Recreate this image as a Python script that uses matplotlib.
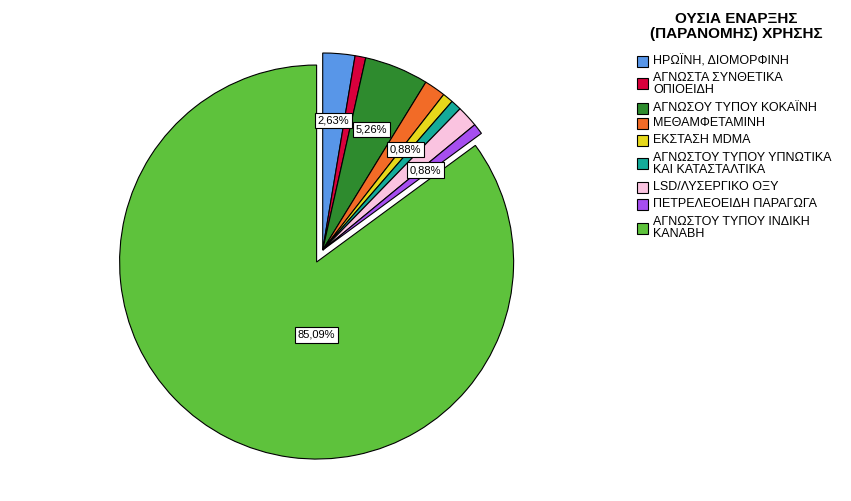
import matplotlib
matplotlib.use("Agg")
import matplotlib.pyplot as plt
import numpy as np
from matplotlib.patches import Rectangle

plt.rcParams['font.family'] = ['Liberation Sans', 'DejaVu Sans']

categories = [
    "ΗΡΩΪΝΗ, ΔΙΟΜΟΡΦΙΝΗ",
    "ΑΓΝΩΣΤΑ ΣΥΝΘΕΤΙΚΑ\nΟΠΙΟΕΙΔΗ",
    "ΑΓΝΩΣΟΥ ΤΥΠΟΥ ΚΟΚΑΪΝΗ",
    "ΜΕΘΑΜΦΕΤΑΜΙΝΗ",
    "ΕΚΣΤΑΣΗ MDMA",
    "ΑΓΝΩΣΤΟΥ ΤΥΠΟΥ ΥΠΝΩΤΙΚΑ\nΚΑΙ ΚΑΤΑΣΤΑΛΤΙΚΑ",
    "LSD/ΛΥΣΕΡΓΙΚΟ ΟΞΥ",
    "ΠΕΤΡΕΛΕΟΕΙΔΗ ΠΑΡΑΓΩΓΑ",
    "ΑΓΝΩΣΤΟΥ ΤΥΠΟΥ ΙΝΔΙΚΗ\nΚΑΝΑΒΗ",
]
counts = [3, 1, 6, 2, 1, 1, 2, 1, 97]
colors = ["#5896e8", "#d8003c", "#2e8b2e", "#f26b27", "#e6d81b",
          "#14ab9a", "#fac3e0", "#a64ef0", "#5ec23c"]
shown_labels = [True, False, True, False, True, False, False, True, True]
legend_title = "ΟΥΣΙΑ ΕΝΑΡΞΗΣ\n(ΠΑΡΑΝΟΜΗΣ) ΧΡΗΣΗΣ"

W, H = 851, 501
fig = plt.figure(figsize=(W / 100, H / 100), dpi=100)
ax = fig.add_axes([0, 0, 1, 1])

cx, cy, R = 322.7, H - 250, 197
explode = [0] * 8 + [13.5]
wedges, _ = ax.pie(counts, colors=colors, startangle=90, counterclock=False,
                   radius=R, center=(cx, cy), explode=explode, frame=True,
                   wedgeprops=dict(edgecolor="black", linewidth=0.8))

total = sum(counts)
for i, w in enumerate(wedges):
    if not shown_labels[i]:
        continue
    pct = counts[i] / total * 100
    txt = f"{pct:.2f}%".replace(".", ",")
    wcx, wcy = w.center
    if i == len(counts) - 1:
        lx, ly = wcx, wcy - 0.37 * R
    else:
        ang = np.deg2rad((w.theta1 + w.theta2) / 2)
        lx, ly = wcx + 0.66 * R * np.cos(ang), wcy + 0.66 * R * np.sin(ang)
    ax.text(lx, ly, txt, ha="center", va="center", fontsize=8,
            bbox=dict(boxstyle="square,pad=0.25", facecolor="white",
                      edgecolor="black", linewidth=0.8))

# legend
ax.text(736, H - 26.5, legend_title, ha="center", va="center",
        fontsize=11, fontweight="bold", linespacing=1.1)
row_y = [61, 83.5, 108, 123, 140, 163.5, 187, 204, 228]
for name, col, yy in zip(categories, colors, row_y):
    ax.add_patch(Rectangle((637, H - yy - 5.5), 11, 11, facecolor=col,
                           edgecolor="black", linewidth=0.8))
    ax.text(653, H - yy, name, ha="left", va="center", fontsize=9,
            linespacing=1.0)

ax.set_xlim(0, W)
ax.set_ylim(0, H)
ax.set_aspect("equal")
ax.axis("off")
fig.savefig("out.png", dpi=100)
